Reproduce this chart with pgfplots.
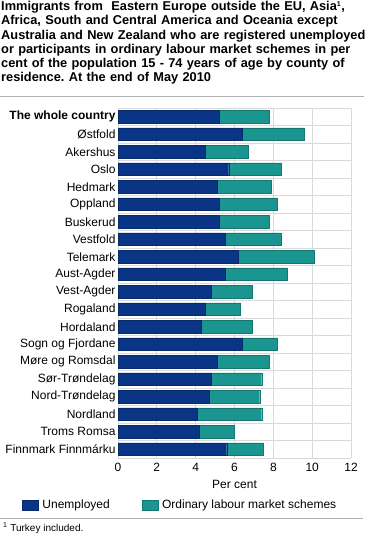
\documentclass[border=0pt]{standalone}
\usepackage{pgfplots}
\pgfplotsset{compat=1.18}
\usepackage{fontspec}
\setmainfont{Liberation Sans}
\frenchspacing
\definecolor{ssbblue}{RGB}{10,53,134}
\definecolor{ssbteal}{RGB}{26,149,143}
\definecolor{gridgray}{RGB}{217,217,217}
\begin{document}
\begin{tikzpicture}[x=1bp,y=1bp]
\useasboundingbox (0,0) rectangle (369,549);
\node[anchor=north west, inner sep=0pt, text width=369bp, align=left,
  font=\bfseries\fontsize{12.8bp}{14.3bp}\selectfont] at (1,548)
  {Immigrants from\ \ Eastern Europe outside the EU, Asia\textsuperscript{\fontsize{7bp}{8bp}\selectfont 1},\\
   Africa, South and Central America and Oceania except\\
   Australia and New Zealand who are registered unemployed\\
   or participants in ordinary labour market schemes in per\\
   cent of the population 15 - 74 years of age by county of\\
   residence. At the end of May 2010};
\draw[gray!60, line width=1pt] (0,452) -- (364,452);
\begin{axis}[
  at={(118bp,91bp)}, anchor=south west,
  scale only axis, width=233bp, height=350bp,
  xbar stacked, bar width=12.6bp,
  xmin=0, xmax=12, xtick={0,2,...,12},
  ymin=-0.5, ymax=19.5,
  ytick={0,...,19},
  yticklabels={Finnmark Finnmárku,Troms Romsa,Nordland,Nord-Trøndelag,Sør-Trøndelag,Møre og Romsdal,Sogn og Fjordane,Hordaland,Rogaland,Vest-Agder,Aust-Agder,Telemark,Vestfold,Buskerud,Oppland,Hedmark,Oslo,Akershus,Østfold,\textbf{The whole country}},
  minor ytick={-0.5,0.5,...,19.5},
  ymajorgrids=false, yminorgrids=true, xmajorgrids=true,
  grid style={gridgray, line width=0.8pt},
  minor grid style={gridgray, line width=0.8pt},
  axis line style={draw=none},
  major tick length=0pt, minor tick length=0pt,
  tick label style={font=\fontsize{12bp}{14bp}\selectfont},
  /pgf/number format/assume math mode=true,
  yticklabel style={xshift=1bp},
  xticklabel style={yshift=-2bp},
  xlabel={Per cent}, xlabel style={font=\fontsize{12bp}{14bp}\selectfont, yshift=-1bp},
  legend style={at={(-99bp,-47bp)}, anchor=west, draw=none, fill=none,
    legend columns=2, font=\fontsize{12bp}{14bp}\selectfont,
    /tikz/every odd column/.append style={column sep=2bp},
    /tikz/every even column/.append style={column sep=30bp}},
  legend image code/.code={\fill[#1] (0bp,-5bp) rectangle (16bp,5bp);},
]
\addplot[fill=ssbblue, draw=ssbblue!80!black, line width=0.3pt] coordinates {
(5.6,0) (4.2,1) (4.1,2) (4.7,3) (4.8,4) (5.1,5) (6.4,6) (4.3,7) (4.5,8) (4.8,9)
(5.5,10) (6.2,11) (5.5,12) (5.2,13) (5.2,14) (5.1,15) (5.7,16) (4.5,17) (6.4,18) (5.2,19)};
\addlegendentry{Unemployed}
\addplot[fill=ssbteal, draw=ssbteal!80!black, line width=0.3pt] coordinates {
(1.9,0) (1.8,1) (3.3,2) (2.6,3) (2.6,4) (2.7,5) (1.8,6) (2.6,7) (1.8,8) (2.1,9)
(3.2,10) (3.9,11) (2.9,12) (2.6,13) (3.0,14) (2.8,15) (2.7,16) (2.2,17) (3.2,18) (2.6,19)};
\addlegendentry{Ordinary labour market schemes}
\end{axis}
\draw[gray!60, line width=1pt] (0,31) -- (363,31);
\node[anchor=west, inner sep=0pt, font=\fontsize{10bp}{12bp}\selectfont] at (3,21)
  {\textsuperscript{1} Turkey included.};
\end{tikzpicture}
\end{document}
